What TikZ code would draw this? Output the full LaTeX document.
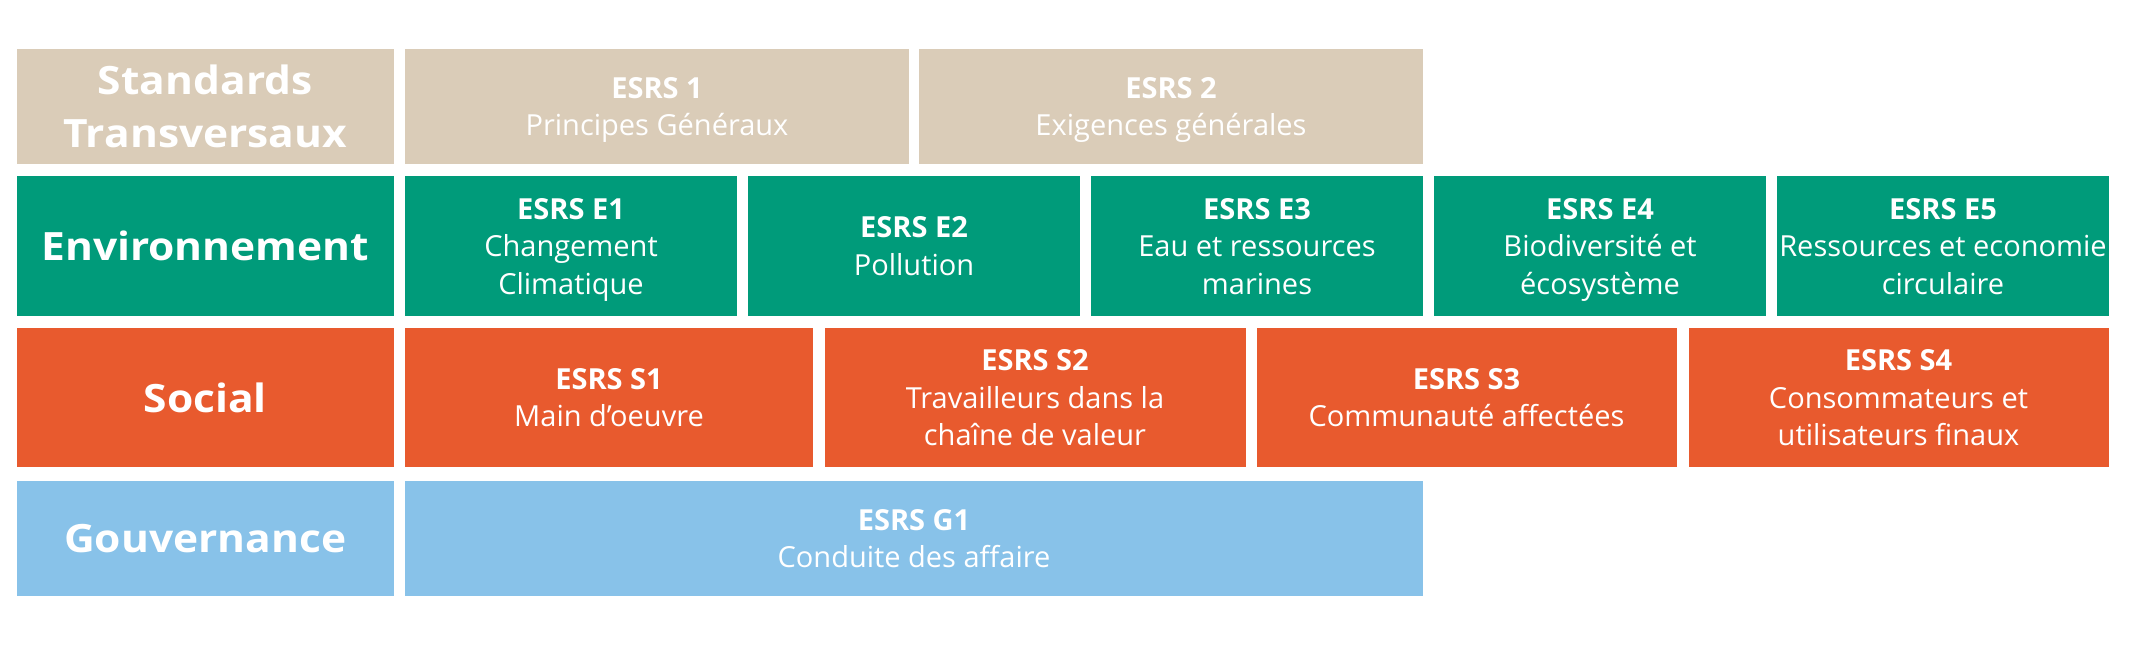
\documentclass[tikz,border=0pt]{standalone}
\usepackage{fontspec}
\setmainfont{Open Sans}
\newfontfamily\headfont[FakeStretch=1.09]{Open Sans}
\definecolor{beige}{HTML}{DACCB8}
\definecolor{envgreen}{HTML}{009B7A}
\definecolor{socorange}{HTML}{E85A2E}
\definecolor{govblue}{HTML}{88C2E9}
\tikzset{
  cell/.style={rectangle, inner sep=0pt, outer sep=0pt, text=white, align=center,
    anchor=north west, text depth=0pt, font=\fontsize{29}{37.5}\selectfont},
  head/.style={cell, font=\headfont\bfseries\fontsize{39}{53}\selectfont},
  trans/.style={fill=beige},
  env/.style={fill=envgreen},
  soc/.style={fill=socorange},
  gov/.style={fill=govblue},
}
\newcommand{\code}[1]{{\bfseries #1}}
\begin{document}
\begin{tikzpicture}[x=1pt,y=-1pt]
\useasboundingbox (0,0) rectangle (2153,664);
% row 1
\node[head,trans,minimum width=377.5pt,minimum height=115pt] (lt) at (16.5,49) {Standards\\Transversaux};
\node[cell,trans,minimum width=504pt,minimum height=115pt] (esrs1) at (405,49) {\code{ESRS 1}\\Principes Généraux};
\node[cell,trans,minimum width=504pt,minimum height=115pt] (esrs2) at (919,49) {\code{ESRS 2}\\Exigences générales};
% row 2
\node[head,env,minimum width=377.5pt,minimum height=140pt] (le) at (16.5,176) {Environnement};
\node[cell,env,minimum width=332pt,minimum height=140pt] (e1) at (405,176) {\code{ESRS E1}\\Changement\\Climatique};
\node[cell,env,minimum width=332pt,minimum height=140pt] (e2) at (748,176) {\code{ESRS E2}\\Pollution};
\node[cell,env,minimum width=332pt,minimum height=140pt] (e3) at (1091,176) {\code{ESRS E3}\\Eau et ressources\\marines};
\node[cell,env,minimum width=332pt,minimum height=140pt] (e4) at (1434,176) {\code{ESRS E4}\\Biodiversité et\\écosystème};
\node[cell,env,minimum width=332pt,minimum height=140pt] (e5) at (1777,176) {\code{ESRS E5}\\Ressources et economie\\circulaire};
% row 3
\node[head,soc,minimum width=377.5pt,minimum height=139pt] (ls) at (16.5,328) {Social};
\node[cell,soc,minimum width=408pt,minimum height=139pt] (s1) at (405,328) {\code{ESRS S1}\\Main d’oeuvre};
\node[cell,soc,minimum width=421pt,minimum height=139pt] (s2) at (824.5,328) {\code{ESRS S2}\\Travailleurs dans la\\chaîne de valeur};
\node[cell,soc,minimum width=420pt,minimum height=139pt] (s3) at (1256.5,328) {\code{ESRS S3}\\Communauté affectées};
\node[cell,soc,minimum width=420pt,minimum height=139pt] (s4) at (1688.5,328) {\code{ESRS S4}\\Consommateurs et\\utilisateurs finaux};
% row 4
\node[head,gov,minimum width=377.5pt,minimum height=115pt] (lg) at (16.5,481) {Gouvernance};
\node[cell,gov,minimum width=1018pt,minimum height=115pt] (g1) at (405,481) {\code{ESRS G1}\\Conduite des affaire};
\end{tikzpicture}
\end{document}
